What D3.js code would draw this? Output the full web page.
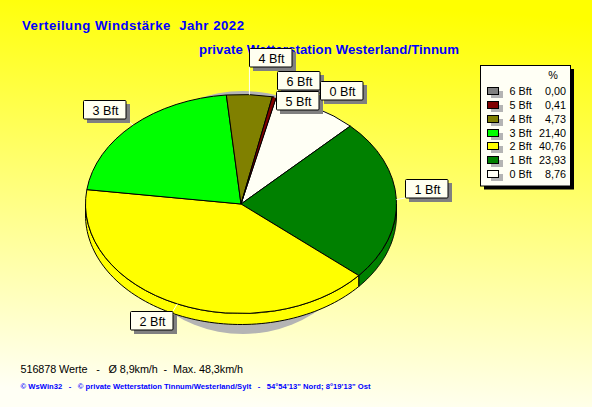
<!DOCTYPE html>
<html><head><meta charset="utf-8">
<script src="https://cdnjs.cloudflare.com/ajax/libs/d3/7.8.5/d3.min.js"></script>
<style>html,body{margin:0;padding:0;overflow:hidden;background:#fff}svg{display:block}text{font-family:"Liberation Sans",Arial,sans-serif}</style>
</head><body><svg id="c" width="592" height="407"></svg>
<script>
const categories=["0 Bft","1 Bft","2 Bft","3 Bft","4 Bft","5 Bft","6 Bft"];
const percents=[8.76,23.93,40.76,21.40,4.73,0.41,0.00];
const percentLabels=["8,76","23,93","40,76","21,40","4,73","0,41","0,00"];
const colors=["#FFFFF5","#008000","#FFFF00","#00FF00","#808000","#800000","#808080"];
const legendOrder=[6,5,4,3,2,1,0];
const labelDrawOrder=[4,6,5,0,1,2,3];
const titleText="Verteilung Windstärke  Jahr 2022";
const subtitleText="private Wetterstation Westerland/Tinnum";
const statsText="516878 Werte   -   Ø 8,9km/h  -  Max. 48,3km/h";
const footerText="© WsWin32   -   © private Wetterstation Tinnum/Westerland/Sylt   -   54°54'13\" Nord; 8°19'13\" Ost";
// label box top-left corners, in category order
const labelX=[320.5,405,130,83,249,276.5,277.5], labelY=[81,179,311,100,48,91,71];

const svg=d3.select("#c");
const defs=svg.append("defs");
const g=defs.append("linearGradient").attr("id","bg").attr("gradientUnits","userSpaceOnUse")
  .attr("x1",310).attr("y1",0).attr("x2",282).attr("y2",407);
g.append("stop").attr("offset",0).attr("stop-color","#FFFF00");
g.append("stop").attr("offset",1).attr("stop-color","#FFFFF5");
svg.append("rect").attr("width",592).attr("height",407).attr("fill","url(#bg)");

const blue="#0000FF";
svg.append("text").attr("x",22).attr("y",30).attr("fill",blue).attr("font-weight","bold").attr("font-size",13.2).style("white-space","pre").attr("textLength",222).text(titleText);
svg.append("text").attr("x",199).attr("y",54).attr("fill",blue).attr("font-weight","bold").attr("font-size",13.2).attr("textLength",260).text(subtitleText);

const cx=241,cy=204,rx=155.5,ry=109.5,depth=11;
const k=ry/rx;
const rad=d=>d*Math.PI/180;
const start=rad(13.1);
const pie=d3.pie().sort(null).value(d=>d).startAngle(start).endAngle(start+2*Math.PI);
const arcs=pie(percents);
const xs=a=>cx+rx*Math.sin(a), ys=(a,dz=0)=>cy-ry*Math.cos(a)+dz;
const arc=d3.arc().innerRadius(0).outerRadius(rx);

// shadow
svg.append("ellipse").attr("cx",243).attr("cy",212.5).attr("rx",127).attr("ry",121.5).attr("fill","#B4B4B4");

// side wall: front half of the rim only
function wallPath(a0,a1){
  const lo=Math.max(a0,rad(90)),hi=Math.min(a1,rad(270));
  if(hi<=lo) return null;
  const pts=d3.range(0,81).map(i=>lo+(hi-lo)*i/80);
  const top=pts.map(a=>[xs(a),ys(a)]);
  const bot=pts.slice().reverse().map(a=>[xs(a),ys(a,depth)]);
  return d3.line()(top.concat(bot))+"Z";
}
arcs.forEach((d,i)=>{
  const p=wallPath(d.startAngle,d.endAngle);
  if(p) svg.append("path").attr("d",p).attr("fill",colors[i]).attr("stroke","#000").attr("stroke-width",1);
});

// top face
const face=svg.append("g").attr("transform",`translate(${cx},${cy}) scale(1,${k})`);
face.selectAll("path").data(arcs).join("path")
  .attr("d",d=>d.value>0?arc(d):null)
  .attr("fill",(d,i)=>colors[i]).attr("stroke","#000").attr("stroke-width",1)
  .attr("vector-effect","non-scaling-stroke");

// leader lines and label boxes
const bw=43,bh=19;
const boxes=svg.append("g");
arcs.forEach((d,i)=>{
  const m=(d.startAngle+d.endAngle)/2;
  const ax=xs(m), ay=ys(m);
  const tx=Math.max(labelX[i],Math.min(labelX[i]+bw,ax));
  const ty=Math.max(labelY[i],Math.min(labelY[i]+bh,ay));
  boxes.append("line").attr("x1",ax).attr("y1",ay).attr("x2",tx).attr("y2",ty).attr("stroke","#FFFFF5").attr("stroke-width",1);
});
labelDrawOrder.forEach(i=>{
  const b=boxes.append("g").attr("transform",`translate(${Math.floor(labelX[i])},${labelY[i]})`);
  b.append("rect").attr("x",4).attr("y",4).attr("width",bw).attr("height",bh).attr("fill","#808080");
  b.append("rect").attr("x",.5).attr("y",.5).attr("width",bw-.5).attr("height",bh-.5).attr("rx",1).attr("fill","#FFFFF0").attr("stroke","#000");
  b.append("text").attr("x",bw/2+1).attr("y",14.5).attr("text-anchor","middle").attr("font-size",12.6).attr("fill","#000").text(categories[i]);
});

// legend
const lx=480.5,ly=65.5,lw=90,lh=120.5;
svg.append("rect").attr("x",lx+3.5).attr("y",ly+3.5).attr("width",lw).attr("height",lh).attr("fill","#000");
svg.append("rect").attr("x",lx).attr("y",ly).attr("width",lw).attr("height",lh).attr("fill","#FFFFF5").attr("stroke","#000");
svg.append("text").attr("x",553).attr("y",78.5).attr("text-anchor","middle").attr("font-size",10.8).attr("fill","#000").text("%");
legendOrder.forEach((idx,row)=>{
  const y=Math.round(91+row*13.85);
  svg.append("rect").attr("x",491).attr("y",y).attr("width",12).attr("height",7).attr("fill","#B4B4B4");
  svg.append("rect").attr("x",487.5).attr("y",y-3.5).attr("width",11).attr("height",7).attr("fill",colors[idx]).attr("stroke","#000");
  svg.append("text").attr("x",509.5).attr("y",y+4).attr("font-size",10.8).attr("fill","#000").text(categories[idx]);
  svg.append("text").attr("x",566).attr("y",y+4).attr("text-anchor","end").attr("font-size",10.8).attr("fill","#000").text(percentLabels[idx]);
});

svg.append("text").attr("x",20.5).attr("y",373).attr("font-size",10.8).attr("fill","#000").style("white-space","pre").attr("textLength",222.5).text(statsText);
svg.append("text").attr("x",20.5).attr("y",389).attr("font-size",7.6).attr("font-weight","bold").attr("fill",blue).style("white-space","pre").attr("textLength",350).text(footerText);
</script></body></html>
